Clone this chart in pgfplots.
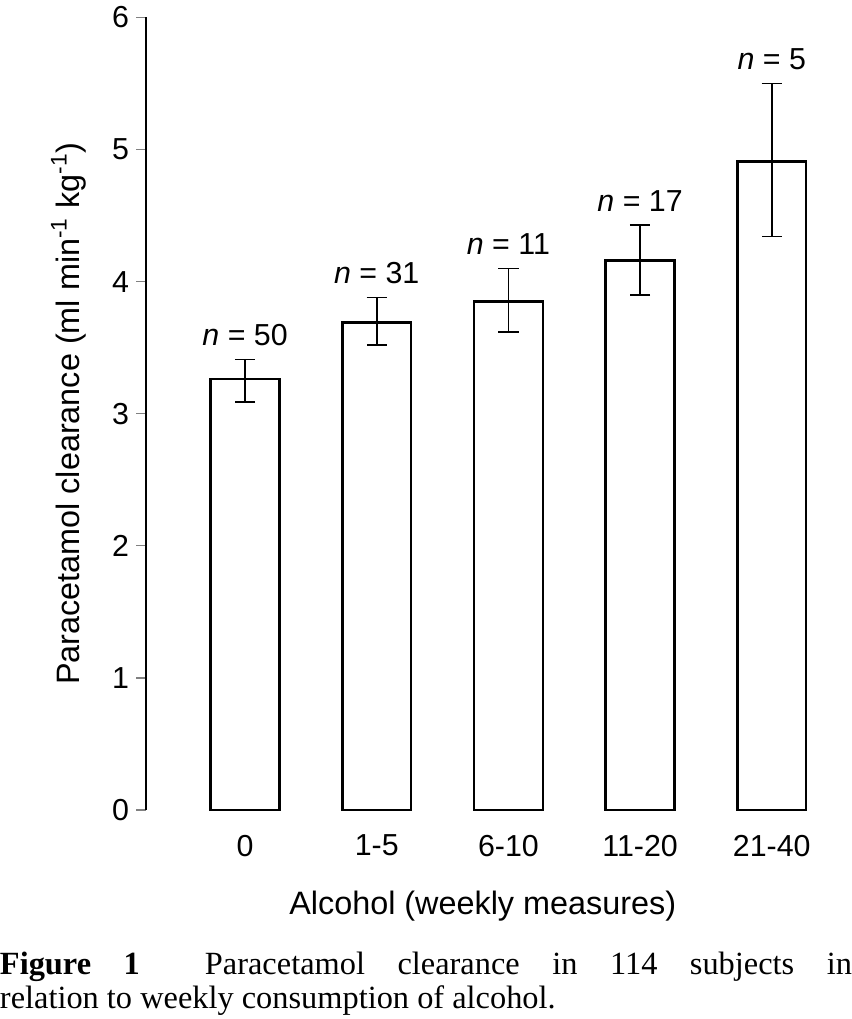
\documentclass[border=0pt]{standalone}
\usepackage{pgfplots}
\pgfplotsset{compat=1.18}
\usepackage{fontspec}
\setmainfont{Liberation Sans}
\newfontfamily\capfont{Liberation Serif}
\begin{document}
\begin{tikzpicture}
\begin{axis}[
  scale only axis, width=332.5pt, height=391.5pt,
  xmin=-0.75, xmax=4.36, ymin=0, ymax=6,
  axis lines*=left, axis line style={-, line width=0.8pt},
  x axis line style={draw=none},
  xtick={0,1,2,3,4}, xticklabels={0,1-5,6-10,11-20,21-40},
  xtick style={draw=none},
  ytick={0,1,2,3,4,5,6},
  tick align=outside, major tick length=5pt,
  ytick style={line width=0.8pt},
  tick label style={font=\fontsize{15}{17}\selectfont},
  /pgf/number format/assume math mode=true,
  xticklabel style={yshift=-4pt},
  xlabel={Alcohol (weekly measures)},
  ylabel={Paracetamol clearance (ml min\textsuperscript{-1} kg\textsuperscript{-1})},
  label style={font=\fontsize{16}{18}\selectfont},
  xlabel style={yshift=-10pt},
  ylabel style={yshift=6pt},
  clip=false,
]
\addplot[ybar, bar width=34pt, fill=white, draw=black, line width=1.2pt,
  error bars/.cd, y dir=both, y explicit, error bar style={line width=0.8pt}, error mark options={rotate=90, mark size=5pt, line width=0.8pt}]
coordinates {
 (0,3.26) += (0,0.15) -= (0,0.17)
 (1,3.69) += (0,0.19) -= (0,0.17)
 (2,3.85) += (0,0.25) -= (0,0.23)
 (3,4.16) += (0,0.27) -= (0,0.26)
 (4,4.91) += (0,0.59) -= (0,0.57)
};
\def\lab#1#2#3{\node[anchor=south, font=\fontsize{15}{17}\selectfont] at (axis cs:#1,#2) {{\itshape n} = #3};}
\lab{0}{3.46}{50}
\lab{1}{3.93}{31}
\lab{2}{4.15}{11}
\lab{3}{4.48}{17}
\lab{4}{5.55}{5}
\end{axis}
\node[anchor=north west, text width=421pt, align=justify, inner sep=0pt, font=\capfont\fontsize{16}{17}\selectfont] at (-72.5pt,-70pt)
 {\textbf{Figure 1}\ \ Paracetamol clearance in 114 subjects in\linebreak relation to weekly consumption of alcohol.\strut};
\end{tikzpicture}
\end{document}
